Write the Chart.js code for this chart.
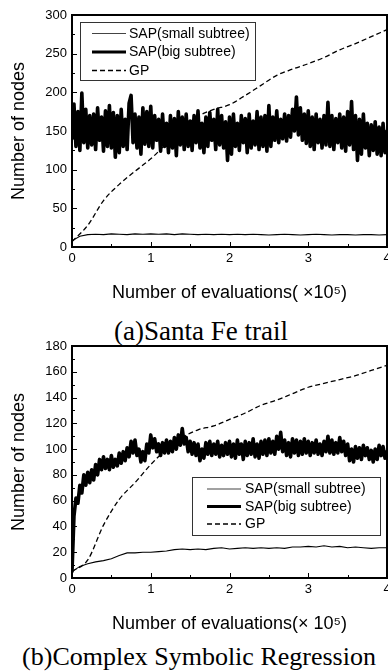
<!DOCTYPE html>
<html>
<head>
<meta charset="utf-8">
<script src="https://cdn.jsdelivr.net/npm/chart.js@4.4.0/dist/chart.umd.min.js"></script>
<style>
  html, body { margin: 0; padding: 0; background: #fff; }
  #wrap { position: relative; width: 388px; height: 672px; overflow: hidden; background: #fff; }
  canvas { position: absolute; left: 0; }
  .cap { position: absolute; left: 0; text-align: center; font-family: "Liberation Serif", "Times New Roman", serif; color: #000; white-space: nowrap; }
</style>
</head>
<body>
<div id="wrap">
  <canvas id="c1" width="400" height="310" style="top:0px"></canvas>
  <div class="cap" style="top:316px;width:402px;font-size:27px;line-height:30px;">(a)Santa Fe trail</div>
  <canvas id="c2" width="400" height="310" style="top:331px"></canvas>
  <div class="cap" style="top:642px;width:398px;font-size:26px;line-height:30px;">(b)Complex Symbolic Regression</div>
</div>
<script>
// ---- DATA (x in units of 10^5 evaluations) ----
const evalFine = [
0,0.025,0.05,0.075,0.1,0.125,0.15,0.175,0.2,0.225,
0.25,0.275,0.3,0.325,0.35,0.375,0.4,0.425,0.45,0.475,
0.5,0.525,0.55,0.575,0.6,0.625,0.65,0.675,0.7,0.725,
0.75,0.775,0.8,0.825,0.85,0.875,0.9,0.925,0.95,0.975,
1,1.025,1.05,1.075,1.1,1.125,1.15,1.175,1.2,1.225,
1.25,1.275,1.3,1.325,1.35,1.375,1.4,1.425,1.45,1.475,
1.5,1.525,1.55,1.575,1.6,1.625,1.65,1.675,1.7,1.725,
1.75,1.775,1.8,1.825,1.85,1.875,1.9,1.925,1.95,1.975,
2,2.025,2.05,2.075,2.1,2.125,2.15,2.175,2.2,2.225,
2.25,2.275,2.3,2.325,2.35,2.375,2.4,2.425,2.45,2.475,
2.5,2.525,2.55,2.575,2.6,2.625,2.65,2.675,2.7,2.725,
2.75,2.775,2.8,2.825,2.85,2.875,2.9,2.925,2.95,2.975,
3,3.025,3.05,3.075,3.1,3.125,3.15,3.175,3.2,3.225,
3.25,3.275,3.3,3.325,3.35,3.375,3.4,3.425,3.45,3.475,
3.5,3.525,3.55,3.575,3.6,3.625,3.65,3.675,3.7,3.725,
3.75,3.775,3.8,3.825,3.85,3.875,3.9,3.925,3.95,3.975,
4];
const evalCoarse = [0,0.1,0.2,0.3,0.4,0.5,0.6,0.7,0.8,0.9,1,1.1,1.2,1.3,1.4,1.5,1.6,1.7,1.8,1.9,
  2,2.1,2.2,2.3,2.4,2.5,2.6,2.7,2.8,2.9,3,3.1,3.2,3.3,3.4,3.5,3.6,3.7,3.8,3.9,4];
const evalGP = [0,0.2,0.4,0.6,0.8,1,1.2,1.4,1.6,1.8,2,2.2,2.4,2.6,2.8,3,3.2,3.4,3.6,3.8,4];

const seriesLabels = ["SAP(small subtree)", "SAP(big subtree)", "GP"];

// (a) Santa Fe trail
const santaSmall = [8,14,16,16.5,16,17,16.5,16,17,16.5,17,16.5,17,16,17,16.5,16,16.5,16,16.5,
  16,16.5,16,16.5,16,15.5,16,16.5,16,15.5,16,16.5,16,15.5,16,16,15.5,16,16,15.5,16];
const santaBig = [
140,185,130,175,125,199,135,178,128,170,
132,172,126,180,138,168,124,176,130,183,
128,174,116,170,122,178,130,165,126,186,
196,135,172,128,168,120,180,133,175,130,
182,128,170,138,165,124,172,130,160,122,
170,128,166,118,175,132,168,126,172,130,
163,125,170,135,176,128,160,122,168,130,
174,138,165,126,178,132,170,128,162,112,
168,120,172,130,160,125,170,135,166,122,
172,128,163,132,175,126,168,130,170,124,
183,130,168,138,176,135,165,140,172,137,
170,142,178,150,194,145,180,138,172,134,
176,130,168,126,172,135,165,128,170,132,
187,130,170,126,166,135,172,128,168,124,
175,132,188,126,170,112,165,120,172,128,
160,118,158,125,162,120,155,118,160,122,
150];
const santaGP = [7,28,60,81,98,114,134,154,169,178,184,196,209,222,230,237,245,255,263,272,281];

// (b) Complex Symbolic Regression
const symbSmall = [5,9,11,12.5,13.5,15,17.5,19.5,19.5,20,20,20.5,21,22,22.5,22,22.5,22,23,23.5,
  22.5,23,23.5,23,23.5,23,23.5,23,24,24,24.5,24,25,24,24.5,23.5,24,23.5,23,23.5,23.5];
const symbBig = [
5,48,62,58,72,66,80,72,82,74,
84,76,88,80,92,84,94,85,92,84,
95,86,92,87,97,89,98,91,101,94,
106,97,107,95,100,90,98,91,104,97,
111,101,108,98,104,95,105,97,107,97,
106,98,109,100,111,103,116,104,109,98,
106,96,105,95,104,91,100,93,105,96,
106,95,104,96,106,94,103,95,105,96,
106,94,104,93,107,96,104,92,106,95,
105,96,108,94,104,93,106,96,107,95,
108,97,106,96,110,100,113,98,107,95,
105,94,108,97,107,95,106,96,108,97,
106,95,105,97,107,96,104,95,106,98,
110,97,107,96,105,97,109,98,106,95,
104,91,100,90,102,93,101,92,103,95,
101,92,99,90,100,92,103,95,102,93,
98];
const symbGP = [5,14,41,61,74,88,100,109,115,118,123,128,134,138,143,148,151,154,157,161,165];

const yTitle = "Number of nodes";
const xTitleA = "Number of evaluations( \u00d710\u2075)";
const xTitleB = "Number of evaluations(\u00d7 10\u2075)";

// ---- RENDERING ----
Chart.defaults.font.family = '"Liberation Sans", Arial, Helvetica, sans-serif';
Chart.defaults.color = '#000';

const pts = (xs, ys) => ys.map((v, i) => ({ x: xs[i], y: v }));

const frameTicks = {
  id: 'frameTicks',
  afterDraw(chart) {
    const { ctx, chartArea: a, scales: { x, y } } = chart;
    ctx.save();
    ctx.strokeStyle = '#000';
    ctx.lineWidth = 1;
    const seg = (x1, y1, x2, y2) => { ctx.beginPath(); ctx.moveTo(x1, y1); ctx.lineTo(x2, y2); ctx.stroke(); };
    const xt = x.ticks.map(t => t.value);
    xt.forEach((v, i) => {
      const p = Math.round(x.getPixelForValue(v)) + 0.5;
      seg(p, a.bottom, p, a.bottom - 5);
      if (i < xt.length - 1) {
        const m = Math.round(x.getPixelForValue((v + xt[i + 1]) / 2)) + 0.5;
        seg(m, a.bottom, m, a.bottom - 3);
      }
    });
    const yt = y.ticks.map(t => t.value);
    yt.forEach((v, i) => {
      const p = Math.round(y.getPixelForValue(v)) + 0.5;
      seg(a.left, p, a.left + 5, p);
      if (i < yt.length - 1) {
        const m = Math.round(y.getPixelForValue((v + yt[i + 1]) / 2)) + 0.5;
        seg(a.left, m, a.left + 3, m);
      }
    });
    ctx.lineWidth = 2;
    ctx.strokeRect(a.left, a.top, a.right - a.left, a.bottom - a.top);
    ctx.restore();
  }
};

const boxLegend = {
  id: 'boxLegend',
  afterDraw(chart, args, o) {
    const { ctx, chartArea: a } = chart;
    const L = a.left + o.dx, T = a.top + o.dy;
    ctx.save();
    ctx.fillStyle = '#fff';
    ctx.fillRect(L, T, o.w, o.h);
    ctx.strokeStyle = '#333';
    ctx.lineWidth = 1;
    ctx.strokeRect(Math.round(L) + 0.5, Math.round(T) + 0.5, o.w, o.h);
    ctx.font = '14px "Liberation Sans", Arial, sans-serif';
    ctx.textBaseline = 'middle';
    ctx.textAlign = 'left';
    chart.data.datasets.forEach((ds, i) => {
      const yy = T + o.row0 + i * o.rowGap;
      ctx.strokeStyle = ds.legendColor || ds.borderColor;
      ctx.lineWidth = ds.legendWidth || ds.borderWidth;
      ctx.setLineDash(ds.borderDash || []);
      ctx.beginPath();
      ctx.moveTo(L + o.s0, yy);
      ctx.lineTo(L + o.s1, yy);
      ctx.stroke();
      ctx.setLineDash([]);
      ctx.fillStyle = '#000';
      ctx.fillText(ds.label, L + o.tx, yy + 0.5);
    });
    ctx.restore();
  }
};

function makeChart(id, small, big, gp, yMax, yStep, xTitle, legendOpts) {
  return new Chart(document.getElementById(id), {
    type: 'line',
    data: {
      datasets: [
        { label: seriesLabels[0], data: pts(evalCoarse, small), borderColor: '#000', legendColor: '#444', borderWidth: 1.1, pointRadius: 0, tension: 0 },
        { label: seriesLabels[1], data: pts(evalFine, big), borderColor: '#000', borderWidth: 3.6, legendWidth: 3, pointRadius: 0, tension: 0, borderJoinStyle: 'round', borderCapStyle: 'round' },
        { label: seriesLabels[2], data: pts(evalGP, gp), borderColor: '#000', borderWidth: 1.3, borderDash: [5, 3], pointRadius: 0, cubicInterpolationMode: 'monotone' }
      ]
    },
    options: {
      responsive: false,
      maintainAspectRatio: false,
      animation: false,
      devicePixelRatio: 1,
      layout: { padding: { top: 15, right: 13, left: 0, bottom: 0 } },
      plugins: {
        legend: { display: false },
        tooltip: { enabled: false },
        boxLegend: legendOpts
      },
      scales: {
        x: {
          type: 'linear', min: 0, max: 4,
          ticks: { stepSize: 1, padding: 4, font: { size: 13 }, color: '#000', maxRotation: 0 },
          grid: { display: false, drawTicks: false },
          border: { display: false },
          title: { display: true, text: xTitle, font: { size: 18 }, color: '#000', padding: { top: 0, bottom: 6 } },
          afterFit(s) { s.height = 63; }
        },
        y: {
          type: 'linear', min: 0, max: yMax,
          ticks: { stepSize: yStep, padding: 5, font: { size: 13 }, color: '#000' },
          grid: { display: false, drawTicks: false },
          border: { display: false },
          title: { display: true, text: yTitle, font: { size: 18 }, color: '#000', padding: { top: 8, bottom: 0 } },
          afterFit(s) { s.width = 72; }
        }
      }
    },
    plugins: [frameTicks, boxLegend]
  });
}

makeChart('c1', santaSmall, santaBig, santaGP, 300, 50, xTitleA,
  { dx: 8, dy: 7, w: 175, h: 58, row0: 11.5, rowGap: 18.5, s0: 12, s1: 46, tx: 49 });
makeChart('c2', symbSmall, symbBig, symbGP, 180, 20, xTitleB,
  { dx: 120, dy: 131, w: 188, h: 58, row0: 12, rowGap: 17.5, s0: 15, s1: 49, tx: 53 });
</script>
</body>
</html>
